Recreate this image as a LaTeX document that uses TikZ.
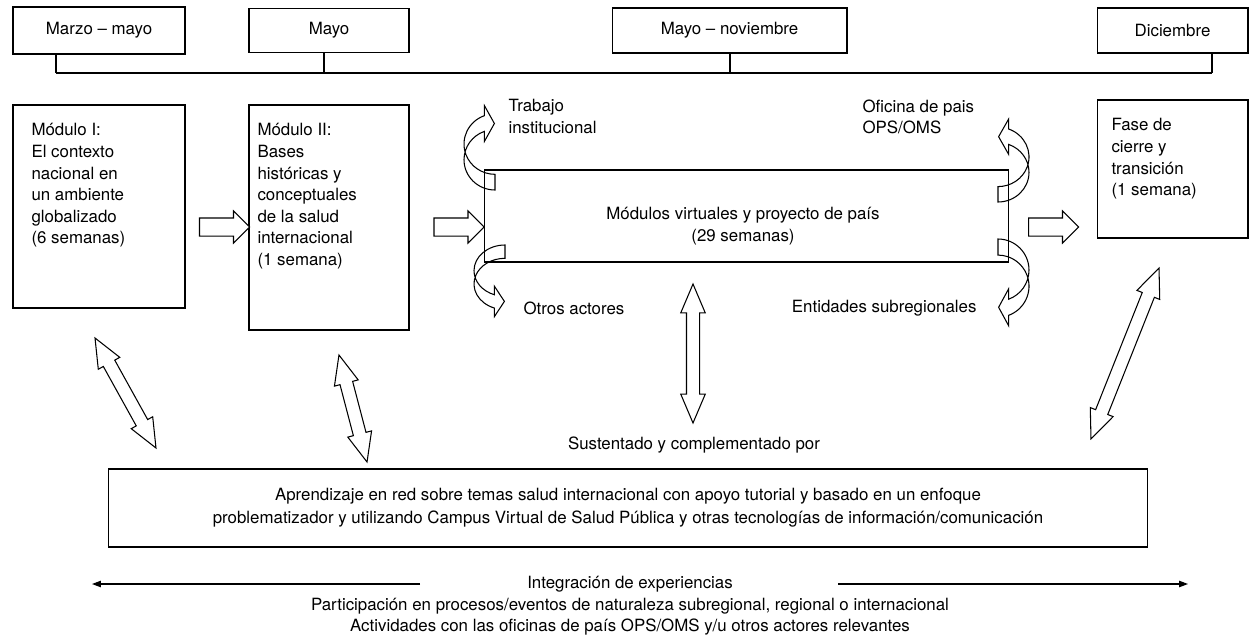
\documentclass[tikz,border=0pt]{standalone}
\usepackage{fontspec}
\setmainfont{TeX Gyre Heros}
\usetikzlibrary{shapes.arrows,arrows.meta,calc}

\tikzset{
  every node/.style={font=\fontsize{9.6}{12.3}\selectfont},
  box/.style={draw, inner sep=0pt},
  txt/.style={align=left, inner sep=0pt, anchor=north west},
  blk/.style={single arrow, draw, fill=white, inner xsep=0pt, inner ysep=0.17cm,
    single arrow head extend=0.14cm, minimum height=1cm},
  dbl/.style={double arrow, draw, fill=white, inner xsep=0pt, inner ysep=0.12cm,
    double arrow head extend=0.115cm, double arrow tip angle=46},
  % twisted ribbon arrow, tail at the origin
  bend/.pic={
    \draw[fill=white] (0,0) arc[start angle=-90, end angle=-250, x radius=31, y radius=27]
      -- ++(0,-9) -- ++(10,16) -- ++(-10,16) -- ++(0,-9)
      arc[start angle=-250, end angle=-90, x radius=31, y radius=27] -- cycle;
  }
}

\begin{document}
\begin{tikzpicture}[x=0.02cm, y=-0.02cm, line width=0.6pt]
  \useasboundingbox (0,0) rectangle (1251,636);

  % time line
  \node[box, minimum width=3.44cm, minimum height=0.94cm] (marzo) at (99,30.5) {Marzo – mayo};
  \node[box, minimum width=3.2cm, minimum height=0.88cm] (mayo) at (329,30.5) {Mayo};
  \node[box, minimum width=4.7cm, minimum height=0.9cm] (nov) at (729.5,30.5) {Mayo – noviembre};
  \node[box, minimum width=3.02cm, minimum height=0.9cm] (dic) at (1172.5,30.5) {Diciembre};
  \coordinate (t1) at (56,73);
  \coordinate (t2) at (324,73);
  \coordinate (t3) at (730,73);
  \coordinate (t4) at (1212,73);
  \draw (t1) -- (t4);
  \foreach \t/\b in {t1/marzo, t2/mayo, t3/nov, t4/dic}
    \draw (\t) -- (\t |- \b.south);

  % modules
  \node[box, minimum width=3.44cm, minimum height=4.06cm] (mod1) at (99,206.5) {};
  \node[txt] (mod1t) at (31,123) {Módulo I:\\El contexto\\nacional en\\un ambiente\\globalizado\\(6 semanas)};
  \node[box, minimum width=3.2cm, minimum height=4.5cm] (mod2) at (329,217.5) {};
  \node[txt] (mod2t) at (257,123) {Módulo II:\\Bases\\históricas y\\conceptuales\\de la salud\\internacional\\(1 semana)};
  \node[box, minimum width=3.02cm, minimum height=2.76cm] (fase) at (1172.5,169) {};
  \node[txt] (faset) at (1111,118) {Fase de\\cierre y\\transición\\(1 semana)};

  % ribbons round the virtual modules
  \pic[yscale=-1.12] at (495,190) {bend};
  \pic[yscale=0.95] at (505,245) {bend};
  \pic[xscale=-1, yscale=-1.1] at (998,202) {bend};
  \pic[xscale=-1, yscale=1.15] at (998,239) {bend};
  \node[box, minimum width=10.5cm, minimum height=1.84cm] (cen) at (746.5,216) {};
  \node[align=center] (cent) at (743,226) {Módulos virtuales y proyecto de país\\(29 semanas)};
  \node[txt] (trab) at (508,99) {Trabajo\\institucional};
  \node[txt] (ofi) at (862,99) {Oficina de pais\\OPS/OMS};
  \node[anchor=west, inner sep=0pt] (otros) at (523,308) {Otros actores};
  \node[anchor=east, inner sep=0pt] (entid) at (977,308) {Entidades subregionales};

  \node[blk] (a1) at (220,227) {};
  \node[blk] (a2) at (454.5,227) {};
  \node[blk] (a3) at (1049,227) {};

  \node[dbl, minimum height=2.516cm, rotate=-61] (d1) at (125.5,393) {};
  \node[dbl, minimum height=2.212cm, rotate=-75.3] (d2) at (353,408.5) {};
  \node[dbl, minimum height=2.78cm, rotate=90] (d3) at (693,353.5) {};
  \node[dbl, minimum height=3.68cm, rotate=68.3] (d4) at (1125,353.5) {};

  \node (sust) at (694,445) {Sustentado y complementado por};
  \node[box, minimum width=20.8cm, minimum height=1.56cm, align=center,
    font=\fontsize{9.6}{13}\selectfont] (red) at (628,508)
    {Aprendizaje en red sobre temas salud internacional con apoyo tutorial y basado en un enfoque\\
     problematizador y utilizando Campus Virtual de Salud Pública y otras tecnologías de información/comunicación};

  % integration
  \node (integ) at (630,584) {Integración de experiencias};
  \node (part) at (630,606) {Participación en procesos/eventos de naturaleza subregional, regional o internacional};
  \node (activ) at (630,627) {Actividades con las oficinas de país OPS/OMS y/u otros actores relevantes};
  \coordinate (l1) at (420,584);
  \coordinate (l2) at (92,584);
  \coordinate (r1) at (838,584);
  \coordinate (r2) at (1188,584);
  \draw[-{Triangle[length=1.8mm, width=1.3mm]}] (l1) -- (l2);
  \draw[-{Triangle[length=1.8mm, width=1.3mm]}] (r1) -- (r2);
\end{tikzpicture}
\end{document}
